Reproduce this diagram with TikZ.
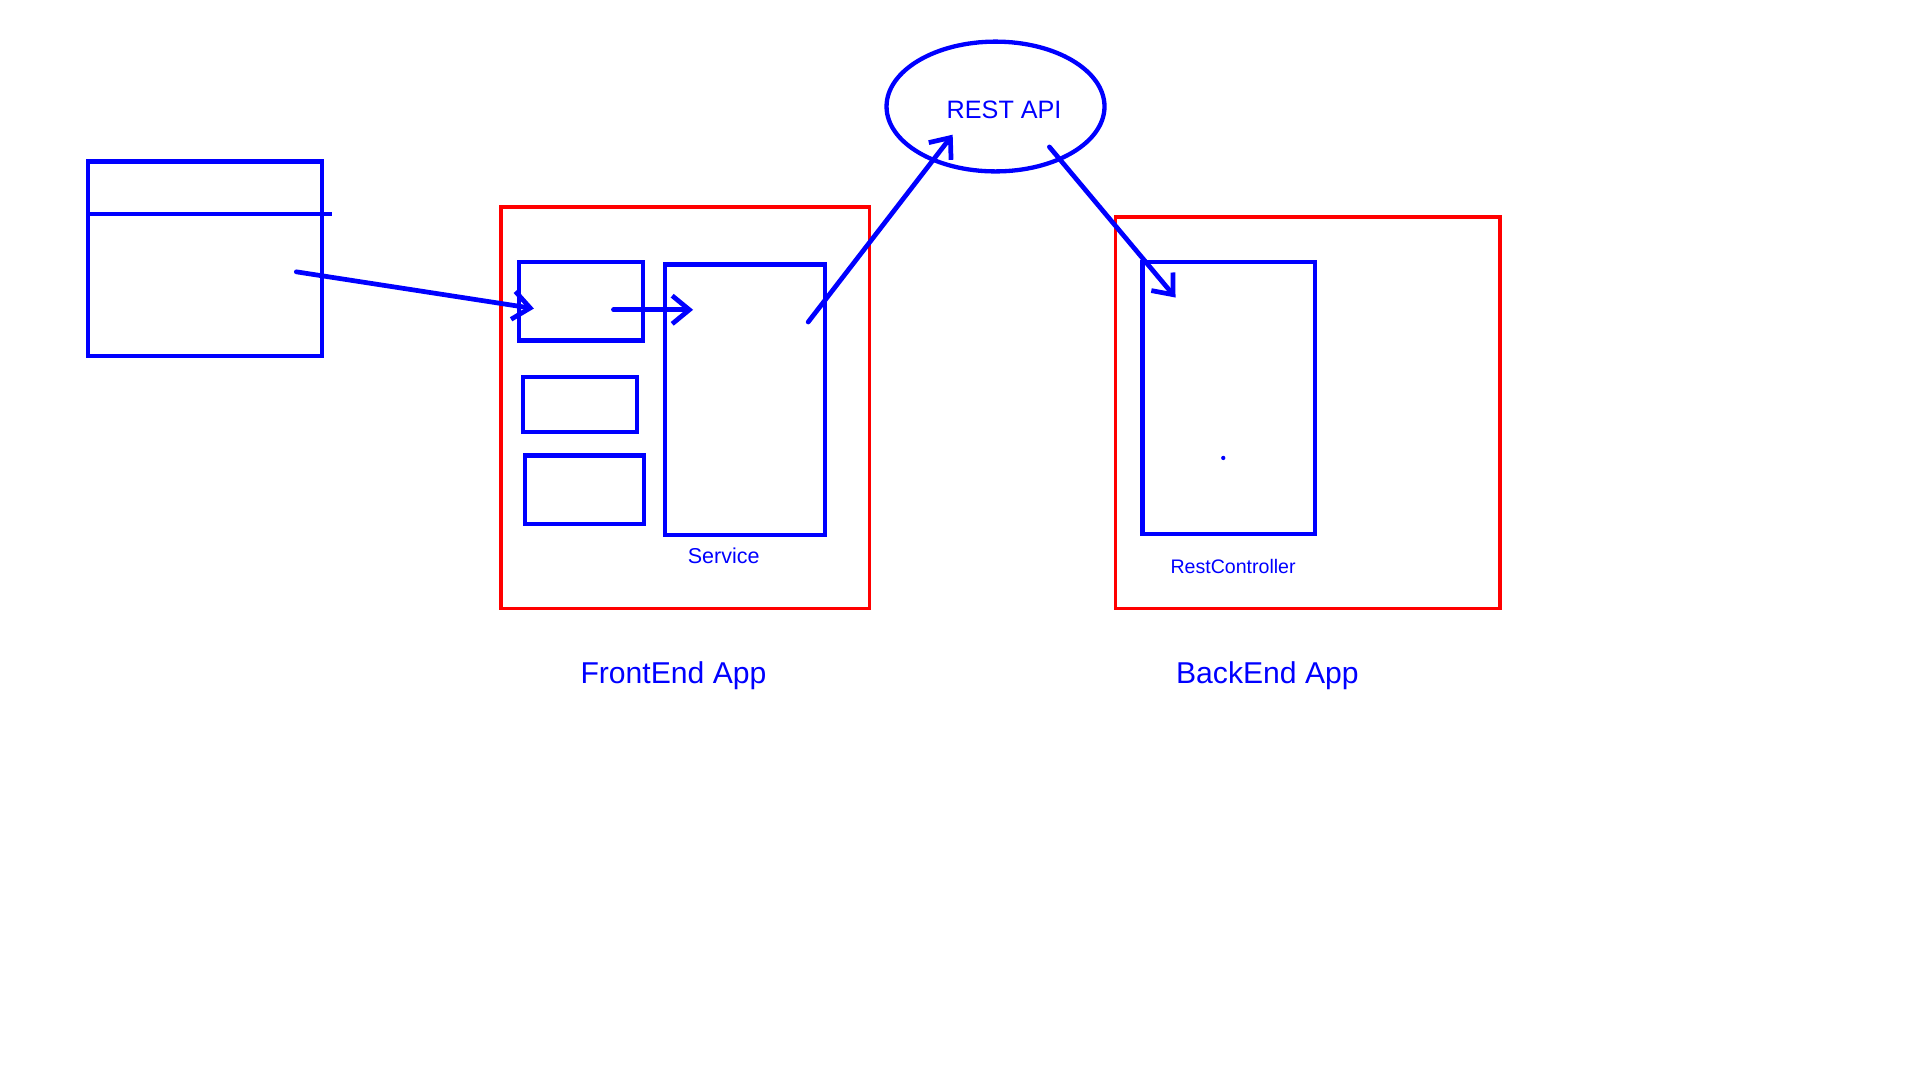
\documentclass[tikz,border=0pt]{standalone}
\usepackage{fontspec}
\setmainfont{Liberation Sans}
\usepackage{xcolor}
\definecolor{paintblue}{RGB}{0,0,255}
\definecolor{paintred}{RGB}{255,0,0}
\usepackage{tikz}
\usetikzlibrary{arrows.meta,positioning,shapes.geometric}

\begin{document}
\begin{tikzpicture}[
  every node/.style = {text=paintblue, inner sep=0pt},
  part/.style = {draw=paintblue, line width=2pt, rectangle},
  app/.style = {draw=paintred, line width=1.7pt, rectangle},
  arr/.style = {-{Straight Barb[length=2.8mm,width=4.6mm,line width=2.2pt]},
    draw=paintblue, line width=2.2pt, line cap=round},
]
\useasboundingbox (0,0) rectangle (31.36,17.64);
\node[part, minimum width=3.82cm, minimum height=3.18cm] (win) at (3.35,13.41) {};
\coordinate (winbar) at (5.42,14.14);
\draw[paintblue, line width=2pt] (win.west |- winbar) -- (winbar);
\node[app, minimum width=6.02cm, minimum height=6.56cm] (front) at (11.19,10.98) {};
\node[part, minimum width=2.02cm, minimum height=1.28cm] (comp1) at (9.49,12.72) {};
\node[part, minimum width=1.86cm, minimum height=0.90cm] (comp2) at (9.47,11.03) {};
\node[part, minimum width=1.94cm, minimum height=1.12cm] (comp3) at (9.55,9.64) {};
\node[part, minimum width=2.62cm, minimum height=4.42cm] (svc) at (12.17,11.11) {};
\node[font=\fontsize{10}{12}\selectfont] (svclabel) at (11.82,8.56) {Service};
\node[ellipse, draw=paintblue, line width=2pt, minimum width=3.56cm, minimum height=2.12cm,
  font=\fontsize{11.7}{14}\selectfont] (api) at (16.26,15.90) {\hspace{0.28cm}\raisebox{-0.4cm}{REST API}};
\node[app, minimum width=6.28cm, minimum height=6.40cm] (back) at (21.36,10.90) {};
\node[part, minimum width=2.82cm, minimum height=4.44cm] (ctrl) at (20.07,11.14) {};
\fill[paintblue] (19.98,10.16) circle (0.035);
\node[font=\fontsize{9.1}{11}\selectfont] (ctrllabel) at (20.14,8.38) {RestController};
\node[font=\fontsize{14}{17}\selectfont] (frontlabel) at (11.00,6.60) {FrontEnd App};
\node[font=\fontsize{14}{17}\selectfont] (backlabel) at (20.70,6.60) {BackEnd App};
% free ends of the arrows
\coordinate (winout) at (4.84,13.20);
\coordinate (comp1in) at (8.72,12.60);
\coordinate (comp1out) at (10.02,12.58);
\coordinate (svcin) at (11.32,12.58);
\coordinate (svcout) at (13.20,12.38);
\coordinate (apiin) at (15.56,15.44);
\coordinate (apiout) at (17.14,15.24);
\coordinate (ctrlin) at (19.20,12.78);
\draw[arr] (winout) -- (comp1in);
\draw[arr] (comp1out) -- (svcin);
\draw[arr] (svcout) -- (apiin);
\draw[arr] (apiout) -- (ctrlin);
\end{tikzpicture}
\end{document}
